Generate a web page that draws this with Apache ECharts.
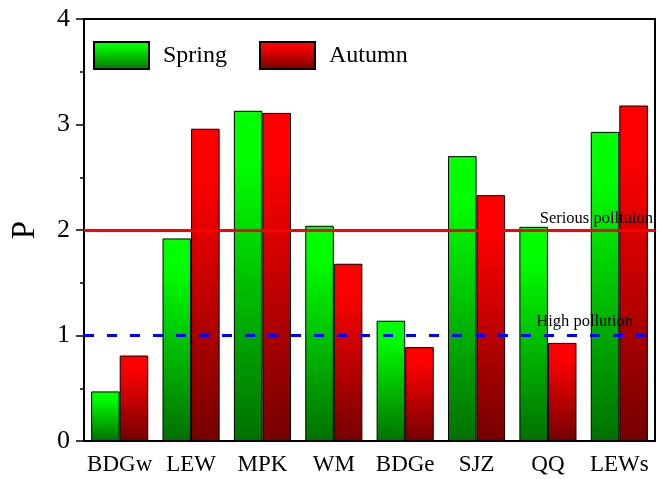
<!DOCTYPE html>
<html>
<head>
<meta charset="utf-8">
<script src="https://cdn.jsdelivr.net/npm/echarts@6/dist/echarts.min.js"></script>
<style>html,body{margin:0;padding:0;background:#fff}#c{width:661px;height:479px}</style>
</head>
<body>
<div id="c"></div>
<script>
const categories = ['BDGw', 'LEW', 'MPK', 'WM', 'BDGe', 'SJZ', 'QQ', 'LEWs'];
const spring = [0.47, 1.92, 3.13, 2.04, 1.14, 2.70, 2.03, 2.93];
const autumn = [0.81, 2.96, 3.11, 1.68, 0.89, 2.33, 0.93, 3.18];
const seriousLevel = 2;
const highLevel = 1;
const yTicks = { min: 0, max: 4, interval: 1 };

const font = 'Liberation Serif, Times New Roman, serif';
function grad(top, bottom) {
  return new echarts.graphic.LinearGradient(0, 0, 0, 1, [
    { offset: 0, color: top }, { offset: 0.15, color: top }, { offset: 1, color: bottom }
  ]);
}
const chart = echarts.init(document.getElementById('c'));
chart.setOption({
  animation: false,
  backgroundColor: '#fff',
  grid: { left: 84, right: 6, top: 19, bottom: 38, show: true, borderColor: '#000', borderWidth: 2 },
  legend: {
    left: 93, top: 41, padding: 0, itemWidth: 55, itemHeight: 27, itemGap: 32, icon: 'rect',
    textStyle: { fontFamily: font, fontSize: 24, color: '#000', padding: [0, 0, 0, 9] },
    data: ['Spring', 'Autumn']
  },
  xAxis: {
    type: 'category', data: categories,
    axisLine: { lineStyle: { color: '#000', width: 2 } },
    axisTick: { alignWithLabel: true, length: 5, lineStyle: { color: '#000', width: 1.5 } },
    axisLabel: { interval: 0, fontFamily: font, fontSize: 23, color: '#000', margin: 12 }
  },
  yAxis: {
    type: 'value', min: yTicks.min, max: yTicks.max, interval: yTicks.interval,
    name: 'P', nameLocation: 'middle', nameGap: 42,
    nameTextStyle: { fontFamily: font, fontSize: 33, color: '#000' },
    axisLine: { show: true, lineStyle: { color: '#000', width: 2 } },
    axisTick: { show: true, length: 8, lineStyle: { color: '#000', width: 1.5 } },
    minorTick: { show: true, splitNumber: 2, length: 4, lineStyle: { color: '#000', width: 1.5 } },
    splitLine: { show: false },
    axisLabel: { fontFamily: font, fontSize: 26, color: '#000', margin: 14 }
  },
  series: [
    {
      name: 'Spring', type: 'bar', data: spring, barGap: '0%', barCategoryGap: '20%',
      itemStyle: { color: grad('#00ff00', '#007000'), borderColor: '#000', borderWidth: 1 },
      markLine: {
        symbol: 'none', silent: true,
        data: [
          { yAxis: seriousLevel, lineStyle: { color: '#ff0000', width: 3, type: 'solid' },
            label: { show: true, formatter: 'Serious polltuion', position: 'insideEndTop', distance: [2, 3],
              fontFamily: font, fontSize: 16.5, color: '#000' } },
          { yAxis: highLevel, lineStyle: { color: '#0000ff', width: 3, type: [10, 13] },
            label: { show: true, formatter: 'High pollution', position: 'insideEndTop', distance: [22, 5],
              fontFamily: font, fontSize: 16.5, color: '#000' } }
        ]
      }
    },
    {
      name: 'Autumn', type: 'bar', data: autumn,
      itemStyle: { color: grad('#ff0000', '#750000'), borderColor: '#000', borderWidth: 1 }
    }
  ]
});
</script>
</body>
</html>
